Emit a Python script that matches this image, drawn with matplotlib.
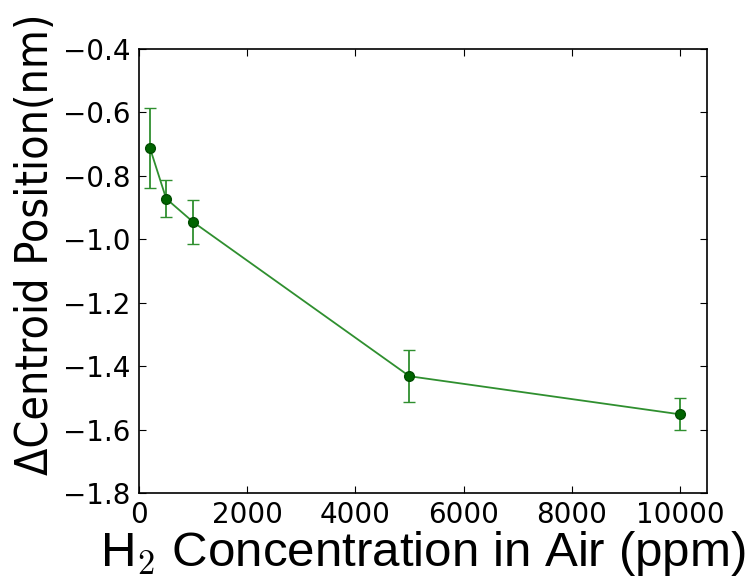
import numpy as np
import matplotlib
matplotlib.use('Agg')
from matplotlib import pyplot as plt

conc = [200, 500, 1000, 5000, 10000]
shift = [-0.712, -0.872, -0.946, -1.432, -1.552]
err = [0.125, 0.058, 0.07, 0.082, 0.05]

plt.rcParams['font.family'] = 'DejaVu Sans'
plt.rcParams['mathtext.fontset'] = 'cm'

fig = plt.figure(figsize=(7.56, 5.82), dpi=100)
ax = fig.add_axes([0.184, 0.153, 0.751, 0.763])

ax.errorbar(conc, shift, yerr=err, color='#2f8f2f', lw=1.3,
            marker='o', ms=7, mfc='#006400', mec='#004d00',
            ecolor='#2f8f2f', elinewidth=1.3, capsize=4, capthick=1)

ax.set_xlim(0, 10500)
ax.set_ylim(-1.8, -0.4)
ax.set_xticks([0, 2000, 4000, 6000, 8000, 10000])
ax.set_yticks(np.arange(-1.8, -0.39, 0.2))
ax.tick_params(direction='in', top=True, right=True, length=5,
               labelsize=20, pad=6)
for s in ax.spines.values():
    s.set_linewidth(1.2)

ax.set_xlabel('H$_2$ Concentration in Air (ppm)', fontsize=35.5,
              family='Liberation Sans', labelpad=0)
ax.set_ylabel('ΔCentroid Position(nm)', fontsize=32,
              fontstretch='condensed')
ax.yaxis.set_label_coords(-0.145, 0.56)

fig.savefig('out.png', dpi=100)
